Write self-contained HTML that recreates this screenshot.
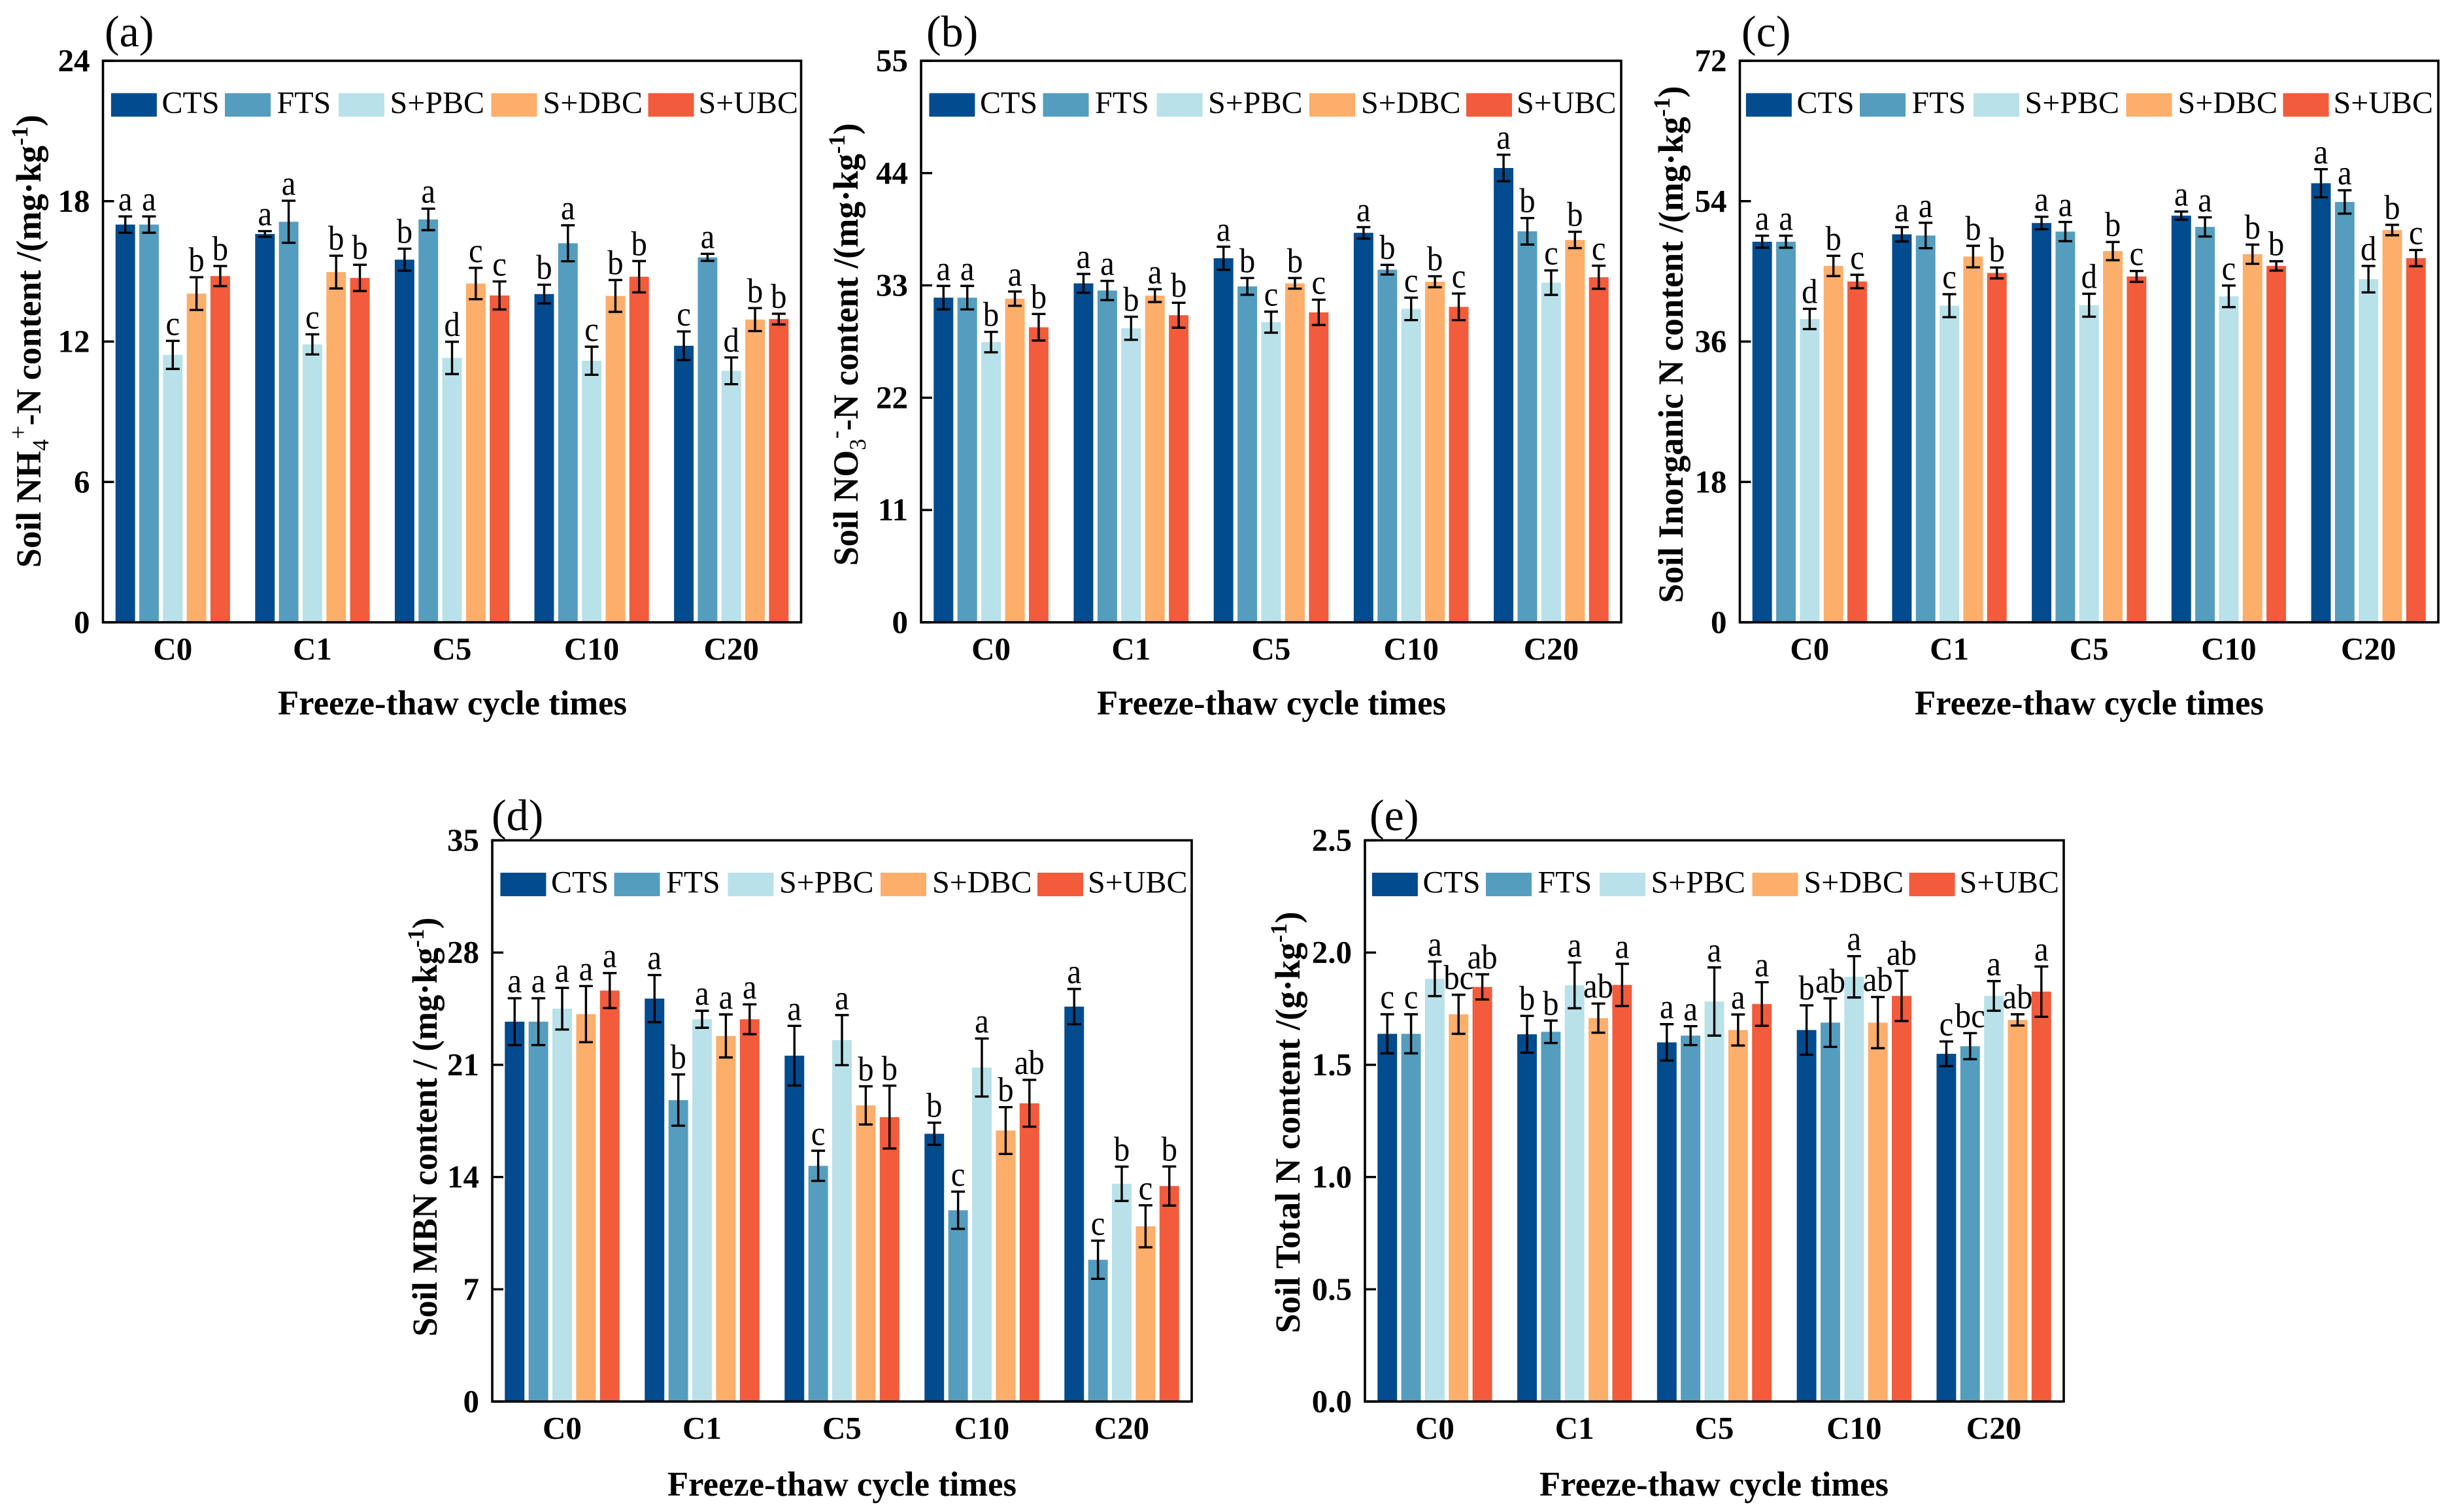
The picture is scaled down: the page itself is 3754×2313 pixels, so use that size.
<!DOCTYPE html>
<html lang="en">
<head>
<meta charset="utf-8">
<title>Soil nitrogen content under freeze-thaw cycles</title>
<style>
html,body{margin:0;padding:0;background:#fff;}
svg{display:block;}
text{font-family:"Liberation Serif",serif;fill:#000;}
.ytitle{font-weight:bold;font-size:54px;}
.xtitle{font-weight:bold;font-size:53px;}
.panel-letter{font-size:68px;}
</style>
</head>
<body>
<svg id="figure" width="3754" height="2313" viewBox="0 0 3754 2313" xmlns="http://www.w3.org/2000/svg">
  <rect x="0" y="0" width="3754" height="2313" fill="#fff"/>

  <text class="panel-letter" x="160" y="71">(a)</text>
  <text class="panel-letter" x="1417" y="71">(b)</text>
  <text class="panel-letter" x="2664" y="71">(c)</text>
  <text class="panel-letter" x="752" y="1270">(d)</text>
  <text class="panel-letter" x="2095" y="1270">(e)</text>

  <text class="ytitle" text-anchor="middle" transform="translate(62,522) rotate(-90)" textLength="693" lengthAdjust="spacingAndGlyphs">Soil NH<tspan font-size="36" font-weight="normal" dy="12">4</tspan><tspan font-size="38" font-weight="normal" dy="-34">+</tspan><tspan dy="22">-N content /(mg·kg</tspan><tspan font-size="36" dy="-20">-1</tspan><tspan dy="20">)</tspan></text>
  <text class="ytitle" text-anchor="middle" transform="translate(1312,527) rotate(-90)" textLength="677" lengthAdjust="spacingAndGlyphs">Soil NO<tspan font-size="36" font-weight="normal" dy="12">3</tspan><tspan font-size="38" font-weight="normal" dy="-34">-</tspan><tspan dy="22">-N content /(mg·kg</tspan><tspan font-size="36" dy="-20">-1</tspan><tspan dy="20">)</tspan></text>
  <text class="ytitle" text-anchor="middle" transform="translate(2574,527) rotate(-90)" textLength="791" lengthAdjust="spacingAndGlyphs">Soil Inorganic N content /(mg·kg<tspan font-size="36" dy="-20">-1</tspan><tspan dy="20">)</tspan></text>
  <text class="ytitle" text-anchor="middle" transform="translate(668,1724) rotate(-90)" textLength="641" lengthAdjust="spacingAndGlyphs">Soil MBN content / (mg·kg<tspan font-size="36" dy="-20">-1</tspan><tspan dy="20">)</tspan></text>
  <text class="ytitle" text-anchor="middle" transform="translate(1988,1717) rotate(-90)" textLength="645" lengthAdjust="spacingAndGlyphs">Soil Total N content /(g·kg<tspan font-size="36" dy="-20">-1</tspan><tspan dy="20">)</tspan></text>

  <text class="xtitle" text-anchor="middle" x="692" y="1093" textLength="534" lengthAdjust="spacingAndGlyphs">Freeze-thaw cycle times</text>
  <text class="xtitle" text-anchor="middle" x="1945" y="1093" textLength="534" lengthAdjust="spacingAndGlyphs">Freeze-thaw cycle times</text>
  <text class="xtitle" text-anchor="middle" x="3196" y="1093" textLength="534" lengthAdjust="spacingAndGlyphs">Freeze-thaw cycle times</text>
  <text class="xtitle" text-anchor="middle" x="1288" y="2288" textLength="534" lengthAdjust="spacingAndGlyphs">Freeze-thaw cycle times</text>
  <text class="xtitle" text-anchor="middle" x="2622" y="2288" textLength="534" lengthAdjust="spacingAndGlyphs">Freeze-thaw cycle times</text>
</svg>
<script>
// ---------- Shared categories and series ----------
const categories = ["C0", "C1", "C5", "C10", "C20"];
const seriesNames = ["CTS", "FTS", "S+PBC", "S+DBC", "S+UBC"];

// ---------- Tick labels ----------
const ticksA = ["0", "6", "12", "18", "24"];
const ticksB = ["0", "11", "22", "33", "44", "55"];
const ticksC = ["0", "18", "36", "54", "72"];
const ticksD = ["0", "7", "14", "21", "28", "35"];
const ticksE = ["0.0", "0.5", "1.0", "1.5", "2.0", "2.5"];

// ---------- Panel (a) NH4+-N: rows are series, columns are categories ----------
const valuesA = [
  [17.0, 16.6, 15.5, 14.03, 11.82],
  [17.0, 17.12, 17.22, 16.2, 15.6],
  [11.43, 11.88, 11.3, 11.18, 10.75],
  [14.05, 14.97, 14.48, 13.95, 12.94],
  [14.8, 14.72, 13.97, 14.77, 12.96]
];
const errorsA = [
  [0.35, 0.12, 0.47, 0.4, 0.61],
  [0.35, 0.9, 0.46, 0.77, 0.15],
  [0.6, 0.43, 0.69, 0.6, 0.57],
  [0.7, 0.7, 0.67, 0.68, 0.49],
  [0.43, 0.56, 0.6, 0.67, 0.23]
];
const lettersA = [
  ["a", "a", "b", "b", "c"],
  ["a", "a", "a", "a", "a"],
  ["c", "c", "d", "c", "d"],
  ["b", "b", "c", "b", "b"],
  ["b", "b", "c", "b", "b"]
];

// ---------- Panel (b) NO3--N ----------
const valuesB = [
  [31.8, 33.2, 35.66, 38.15, 44.5],
  [31.8, 32.5, 32.9, 34.54, 38.3],
  [27.45, 28.8, 29.4, 30.7, 33.27],
  [31.7, 32.0, 33.2, 33.36, 37.45],
  [28.9, 30.08, 30.36, 30.9, 33.8]
];
const errorsB = [
  [1.15, 0.92, 1.13, 0.56, 1.3],
  [1.15, 0.94, 0.82, 0.47, 1.3],
  [1.0, 1.13, 1.03, 1.1, 1.2],
  [0.7, 0.63, 0.52, 0.54, 0.8],
  [1.3, 1.22, 1.24, 1.3, 1.13]
];
const lettersB = [
  ["a", "a", "a", "a", "a"],
  ["a", "a", "b", "b", "b"],
  ["b", "b", "c", "c", "c"],
  ["a", "a", "b", "b", "b"],
  ["b", "b", "c", "c", "c"]
];

// ---------- Panel (c) Inorganic N ----------
const valuesC = [
  [48.8, 49.75, 51.2, 52.15, 56.3],
  [48.8, 49.6, 50.1, 50.7, 53.9],
  [38.9, 40.6, 40.66, 41.8, 44.0],
  [45.7, 46.9, 47.6, 47.2, 50.3],
  [43.7, 44.8, 44.35, 45.7, 46.7]
];
const errorsC = [
  [0.77, 0.92, 0.8, 0.52, 1.8],
  [0.77, 1.63, 1.23, 1.23, 1.5],
  [1.3, 1.47, 1.47, 1.38, 1.7],
  [1.3, 1.38, 1.17, 1.23, 0.67],
  [0.86, 0.7, 0.7, 0.6, 1.04]
];
const lettersC = [
  ["a", "a", "a", "a", "a"],
  ["a", "a", "a", "a", "a"],
  ["d", "c", "d", "c", "d"],
  ["b", "b", "b", "b", "b"],
  ["c", "b", "c", "b", "c"]
];

// ---------- Panel (d) MBN ----------
const valuesD = [
  [23.69, 25.13, 21.57, 16.7, 24.63],
  [23.69, 18.8, 14.7, 11.93, 8.84],
  [24.5, 23.84, 22.54, 20.83, 13.58],
  [24.16, 22.8, 18.47, 16.9, 10.93],
  [25.63, 23.84, 17.74, 18.6, 13.44]
];
const errorsD = [
  [1.46, 1.47, 1.86, 0.69, 1.1],
  [1.46, 1.6, 0.94, 1.16, 1.19],
  [1.3, 0.53, 1.56, 1.81, 1.07],
  [1.75, 1.34, 1.19, 1.46, 1.31],
  [1.09, 0.93, 1.96, 1.46, 1.22]
];
const lettersD = [
  ["a", "a", "a", "b", "a"],
  ["a", "b", "c", "c", "c"],
  ["a", "a", "a", "a", "b"],
  ["a", "a", "b", "b", "c"],
  ["a", "a", "b", "ab", "b"]
];

// ---------- Panel (e) Total N ----------
const valuesE = [
  [1.638, 1.636, 1.6, 1.655, 1.549],
  [1.638, 1.647, 1.63, 1.688, 1.583],
  [1.883, 1.854, 1.782, 1.892, 1.807],
  [1.725, 1.708, 1.655, 1.688, 1.7],
  [1.847, 1.856, 1.771, 1.807, 1.826]
];
const errorsE = [
  [0.087, 0.082, 0.081, 0.11, 0.055],
  [0.087, 0.05, 0.042, 0.108, 0.058],
  [0.077, 0.102, 0.152, 0.092, 0.066],
  [0.087, 0.065, 0.069, 0.114, 0.025],
  [0.056, 0.094, 0.097, 0.112, 0.112]
];
const lettersE = [
  ["c", "b", "a", "b", "c"],
  ["c", "b", "a", "ab", "bc"],
  ["a", "a", "a", "a", "a"],
  ["bc", "ab", "a", "ab", "ab"],
  ["ab", "a", "a", "ab", "a"]
];

// ---------- Rendering ----------
const barColors = ["#024b8f", "#549dbf", "#b8e1e9", "#fdae6b", "#f25b3b"];
const legendSwatchOffsets = [12.4, 186.5, 360.5, 594, 834];
const legendTextOffsets = [90, 266, 439, 673, 911];
const SVGNS = "http://www.w3.org/2000/svg";
const figure = document.getElementById("figure");

function make(tag, parent, geometry) {
  const el = document.createElementNS(SVGNS, tag);
  for (const key in geometry) el.setAttribute(key, geometry[key]);
  parent.appendChild(el);
  return el;
}

function drawPanel(cfg) {
  const { id, left, right, top, bottom, ymax, ticks, values, errors, letters, legendShift } = cfg;
  const plotWidth = right - left;
  const groupStep = plotWidth / categories.length;
  const barStep = groupStep * 0.17;
  const barWidth = groupStep * 0.14;
  const yScale = v => bottom - (v / ymax) * (bottom - top);
  const groupCenter = i => left + (i + 0.5) * groupStep;
  const barCenter = (i, s) => groupCenter(i) + (s - (seriesNames.length - 1) / 2) * barStep;

  const panel = make("g", figure, {});
  
  

  // bars
  seriesNames.forEach((name, s) => {
    categories.forEach((cat, i) => {
      const yTop = yScale(values[s][i]);
      const bar = make("rect", panel, { x: barCenter(i, s) - barWidth / 2, y: yTop, width: barWidth, height: bottom - yTop, fill: barColors[s] });
      
      
    });
  });

  // error bars and significance letters
  seriesNames.forEach((name, s) => {
    categories.forEach((cat, i) => {
      const cx = barCenter(i, s);
      const hi = yScale(values[s][i] + errors[s][i]);
      const lo = yScale(values[s][i] - errors[s][i]);
      const err = make("path", panel, { d: `M${cx - 10.5} ${hi}H${cx + 10.5}M${cx} ${hi}V${lo}M${cx - 10.5} ${lo}H${cx + 10.5}`, stroke: "#000", "stroke-width": 3.4, fill: "none" });
      
      

      const label = make("text", panel, { transform: `translate(${cx},${hi - 9}) scale(0.92,1)`, "text-anchor": "middle", "font-size": 53 });
      label.textContent = letters[s][i];
      
      
    });
  });

  // y ticks and labels
  ticks.forEach((tick, k) => {
    const y = yScale(parseFloat(tick));
    const mark = make("line", panel, { x1: left, x2: left + 17, y1: y, y2: y, stroke: "#000", "stroke-width": 3.4 });
    
    

    const lab = make("text", panel, { x: left - 20, y: y + 16, "text-anchor": "end", "font-size": 49, "font-weight": "bold" });
    lab.textContent = tick;
    
    
  });

  // x labels
  categories.forEach((cat, i) => {
    const lab = make("text", panel, { x: groupCenter(i), y: bottom + 57, "text-anchor": "middle", "font-size": 49, "font-weight": "bold" });
    lab.textContent = cat;
    
    
  });

  // legend
  seriesNames.forEach((name, s) => {
    const swatch = make("rect", panel, { x: left + legendSwatchOffsets[s] + legendShift, y: top + 49.5, width: 70, height: 36, fill: barColors[s], rx: 1 });
    
    

    const txt = make("text", panel, { x: left + legendTextOffsets[s] + legendShift, y: top + 80, "font-size": 48 });
    txt.textContent = name;
    
    
  });

  // frame
  const frame = make("rect", panel, { x: left, y: top, width: plotWidth, height: bottom - top, fill: "none", stroke: "#000", "stroke-width": 3.6 });
  
  
}

drawPanel({ id: "a", left: 157.5, right: 1225.5, top: 93, bottom: 952, ymax: 24, ticks: ticksA, values: valuesA, errors: errorsA, letters: lettersA, legendShift: 0 });
drawPanel({ id: "b", left: 1409, right: 2480, top: 93, bottom: 952, ymax: 55, ticks: ticksB, values: valuesB, errors: errorsB, letters: lettersB, legendShift: 0 });
drawPanel({ id: "c", left: 2661.5, right: 3730, top: 93, bottom: 952, ymax: 72, ticks: ticksC, values: valuesC, errors: errorsC, letters: lettersC, legendShift: -3 });
drawPanel({ id: "d", left: 753, right: 1823, top: 1285.5, bottom: 2144, ymax: 35, ticks: ticksD, values: valuesD, errors: errorsD, letters: lettersD, legendShift: 0 });
drawPanel({ id: "e", left: 2088, right: 3157, top: 1285.5, bottom: 2144, ymax: 2.5, ticks: ticksE, values: valuesE, errors: errorsE, letters: lettersE, legendShift: -1.5 });
</script>
</body>
</html>
